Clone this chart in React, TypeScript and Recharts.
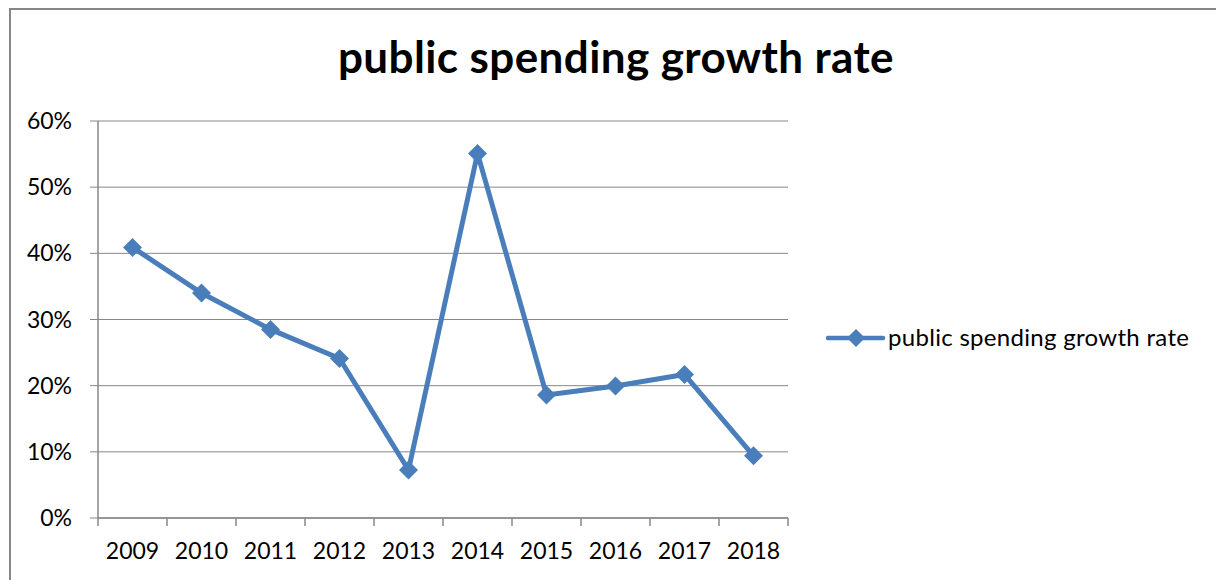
import React from 'react';
import { LineChart, Line, XAxis, YAxis, CartesianGrid, Legend } from 'recharts';

const years = ['2009', '2010', '2011', '2012', '2013', '2014', '2015', '2016', '2017', '2018'];
const growthRate = [40.9, 34.0, 28.5, 24.1, 7.25, 55.1, 18.6, 19.95, 21.7, 9.4];
const yTicks = [0, 10, 20, 30, 40, 50, 60];
const seriesName = 'public spending growth rate';

const blue = '#4a7ebb';
const gray = '#878787';
const font = 'Lato, "Open Sans", sans-serif';

const data = years.map((year, i) => ({ year, rate: growthRate[i] }));

const Diamond = (props: any) => {
  const { cx, cy, index } = props;
  const r = 9.5;
  return (
    <polygon
      key={`d-${index}`}
      points={`${cx},${cy - r} ${cx + r},${cy} ${cx},${cy + r} ${cx - r},${cy}`}
      fill={blue}
    />
  );
};

// year label at the band centre, tick marks on the band edges (Excel style)
const YearTick = (props: any) => {
  const { x, y, payload, index, width, visibleTicksCount } = props;
  const half = payload && payload.offset ? payload.offset : width / visibleTicksCount / 2;
  const top = y - 25;
  const last = index === visibleTicksCount - 1;
  return (
    <g>
      <line x1={x - half} y1={top} x2={x - half} y2={top + 8} stroke={gray} strokeWidth={1.5} />
      {last && <line x1={x + half} y1={top} x2={x + half} y2={top + 8} stroke={gray} strokeWidth={1.5} />}
      <text x={x} y={y} dy="0.71em" textAnchor="middle" fill="#000" fontSize={23} fontFamily={font}>
        {payload.value}
      </text>
    </g>
  );
};

const LegendContent = () => (
  <div style={{ position: 'relative', height: 32, fontFamily: font }}>
    <svg width={60} height={20} style={{ position: 'absolute', left: 0, top: 6 }}>
      <line x1={2} y1={10} x2={57} y2={10} stroke={blue} strokeWidth={4.5} strokeLinecap="round" />
      <polygon points="30,1 39,10 30,19 21,10" fill={blue} />
    </svg>
    <span
      style={{
        position: 'absolute',
        left: 62,
        top: 3,
        fontSize: 24,
        lineHeight: '24px',
        letterSpacing: 0.3,
        whiteSpace: 'nowrap',
        color: '#000',
      }}
    >
      {seriesName}
    </span>
  </div>
);

const App = () => {
  return (
    <div
      style={{
        position: 'absolute',
        left: 0,
        top: 0,
        width: 1216,
        height: 580,
        overflow: 'hidden',
        background: '#fff',
        fontFamily: font,
      }}
    >
      <div
        style={{
          position: 'absolute',
          left: 9,
          top: 8,
          width: 1400,
          height: 800,
          border: `2px solid ${gray}`,
        }}
      />
      <div
        style={{
          position: 'absolute',
          left: 616,
          top: 34,
          transform: 'translateX(-50%)',
          fontSize: 44,
          lineHeight: 1,
          fontWeight: 700,
          letterSpacing: 0.4,
          whiteSpace: 'nowrap',
          color: '#000',
        }}
      >
        {seriesName}
      </div>
      <div style={{ position: 'absolute', left: 0, top: 0 }}>
        <LineChart width={1216} height={580} data={data} margin={{ top: 121, right: 48, bottom: 22, left: 0 }}>
          <CartesianGrid vertical={false} stroke={gray} strokeWidth={1} />
          <XAxis
            dataKey="year"
            scale="band"
            height={40}
            axisLine={{ stroke: gray, strokeWidth: 1.5 }}
            tickLine={false}
            tickSize={0}
            tickMargin={25}
            interval={0}
            tick={YearTick}
          />
          <YAxis
            type="number"
            domain={[0, 60]}
            ticks={yTicks}
            width={98}
            tickSize={8}
            tickMargin={18}
            tickFormatter={(v) => `${v}%`}
            axisLine={{ stroke: gray, strokeWidth: 1.5 }}
            tickLine={{ stroke: gray, strokeWidth: 1 }}
            tick={{ fill: '#000', fontSize: 23, fontFamily: font }}
          />
          <Legend
            layout="vertical"
            align="right"
            verticalAlign="middle"
            content={LegendContent}
            wrapperStyle={{ left: 826, top: 322, width: 380, height: 32 }}
          />
          <Line
            dataKey="rate"
            name={seriesName}
            stroke={blue}
            strokeWidth={5}
            dot={Diamond}
            activeDot={false}
            isAnimationActive={false}
          />
        </LineChart>
      </div>
    </div>
  );
};

export default App;
